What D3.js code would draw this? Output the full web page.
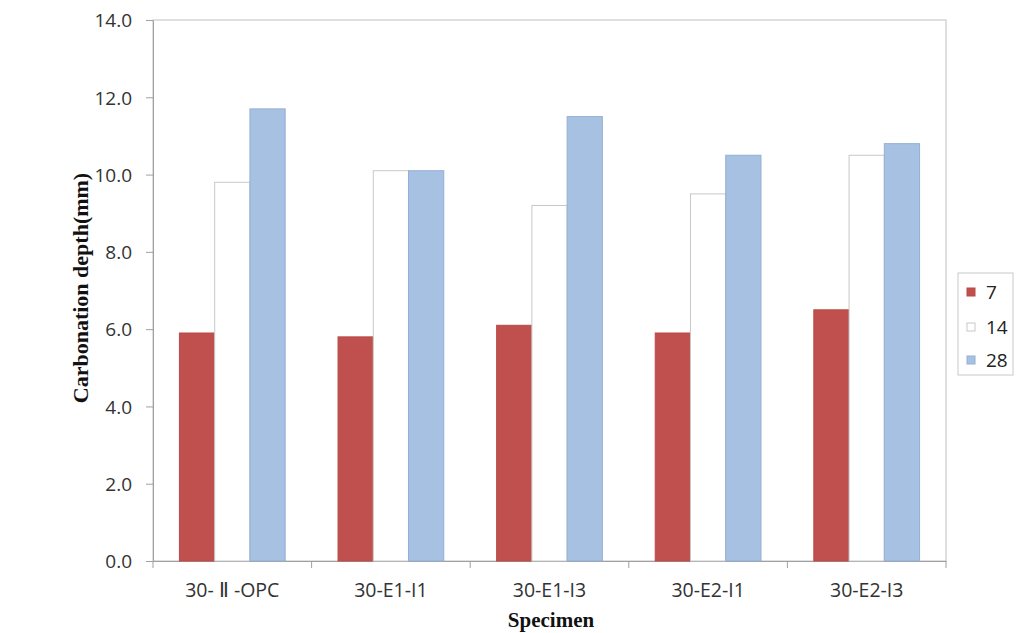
<!DOCTYPE html>
<html><head><meta charset="utf-8">
<script src="https://cdn.jsdelivr.net/npm/d3@7/dist/d3.min.js"></script>
<style>body{margin:0;background:#fff}svg{display:block}</style>
</head><body>
<script>
const categories = ["30- \u2161 -OPC", "30-E1-I1", "30-E1-I3", "30-E2-I1", "30-E2-I3"];
const seriesNames = ["7", "14", "28"];
const values7 = [5.9, 5.8, 6.1, 5.9, 6.5];
const values14 = [9.8, 10.1, 9.2, 9.5, 10.5];
const values28 = [11.7, 10.1, 11.5, 10.5, 10.8];
const yTicks = [0, 2, 4, 6, 8, 10, 12, 14];

const W = 1033, H = 633;
const m = {left: 153, right: 1033 - 946, top: 20, bottom: 633 - 561};
const svg = d3.select("body").append("svg").attr("width", W).attr("height", H);
const iw = W - m.left - m.right, ih = H - m.top - m.bottom;
const g = svg.append("g").attr("transform", `translate(${m.left},${m.top})`);

const x0 = d3.scaleBand().domain(categories).range([0, iw]).paddingInner(0).paddingOuter(0);
const x1 = d3.scaleBand().domain(seriesNames).range([0, x0.bandwidth()]).paddingOuter(0.75).paddingInner(0);
const y = d3.scaleLinear().domain([0, 14]).range([ih, 0]);

const fills = {"7": "#C0504D", "14": "#FFFFFF", "28": "#A7C1E3"};
const strokes = {"7": "#B84A47", "14": "#C8C8C8", "28": "#94AFD3"};
const series = {"7": values7, "14": values14, "28": values28};
const tickFont = "Open Sans, sans-serif";

// plot box
g.append("rect").attr("x", 0).attr("y", 0).attr("width", iw).attr("height", ih)
  .attr("fill", "none").attr("stroke", "#BFBFBF").attr("stroke-width", 1);

// y axis
const yAxis = g.append("g").call(d3.axisLeft(y).tickValues(yTicks).tickFormat(d3.format(".1f")).tickSize(7).tickSizeOuter(0));
yAxis.select(".domain").attr("stroke", "#A0A0A0");
yAxis.selectAll(".tick line").attr("stroke", "#A0A0A0");
yAxis.selectAll(".tick text").attr("font-family", tickFont).attr("font-size", 19).attr("fill", "#333")
  .attr("x", -21).attr("dy", "0.36em");

// x axis
const xAxis = g.append("g").attr("transform", `translate(0,${ih})`)
  .call(d3.axisBottom(x0).tickSize(0).tickSizeOuter(0));
xAxis.select(".domain").attr("stroke", "#A0A0A0");
xAxis.selectAll(".tick text").attr("font-family", tickFont).attr("font-size", 19.5).attr("fill", "#333")
  .attr("y", 36).attr("dy", 0);
const bounds = categories.map(c => x0(c)).concat([iw]);
g.append("g").selectAll("line").data(bounds).join("line")
  .attr("x1", d => d).attr("x2", d => d).attr("y1", ih).attr("y2", ih + 7)
  .attr("stroke", "#A0A0A0");

// bars
const grp = g.append("g").selectAll("g").data(categories).join("g")
  .attr("transform", c => `translate(${x0(c)},0)`);
grp.selectAll("rect").data((c, i) => seriesNames.map(s => ({s, v: series[s][i]}))).join("rect")
  .attr("x", d => x1(d.s)).attr("width", x1.bandwidth())
  .attr("y", d => y(d.v)).attr("height", d => ih - y(d.v))
  .attr("fill", d => fills[d.s]).attr("stroke", d => strokes[d.s]).attr("stroke-width", 1);

// axis titles
svg.append("text").attr("transform", `translate(88,288) rotate(-90)`)
  .attr("text-anchor", "middle").attr("font-family", "Liberation Serif, Times New Roman, serif")
  .attr("font-weight", "bold").attr("font-size", 22).attr("fill", "#111").text("Carbonation depth(mm)");
svg.append("text").attr("x", 551).attr("y", 627)
  .attr("text-anchor", "middle").attr("font-family", "Liberation Serif, Times New Roman, serif")
  .attr("font-weight", "bold").attr("font-size", 21).attr("fill", "#111").text("Specimen");

// legend
const lg = svg.append("g").attr("transform", "translate(958,273)");
lg.append("rect").attr("width", 55).attr("height", 102).attr("fill", "#fff").attr("stroke", "#C8C8C8");
const ly = [19, 54, 87];
const li = lg.selectAll("g").data(seriesNames).join("g").attr("transform", (d, i) => `translate(9,${ly[i]})`);
li.append("rect").attr("x", 0).attr("y", -4).attr("width", 8).attr("height", 8)
  .attr("fill", d => fills[d]).attr("stroke", d => strokes[d]);
li.append("text").attr("x", 19).attr("y", 0).attr("dy", "0.36em")
  .attr("font-family", tickFont).attr("font-size", 19).attr("fill", "#222").text(d => d);
</script>
</body></html>
